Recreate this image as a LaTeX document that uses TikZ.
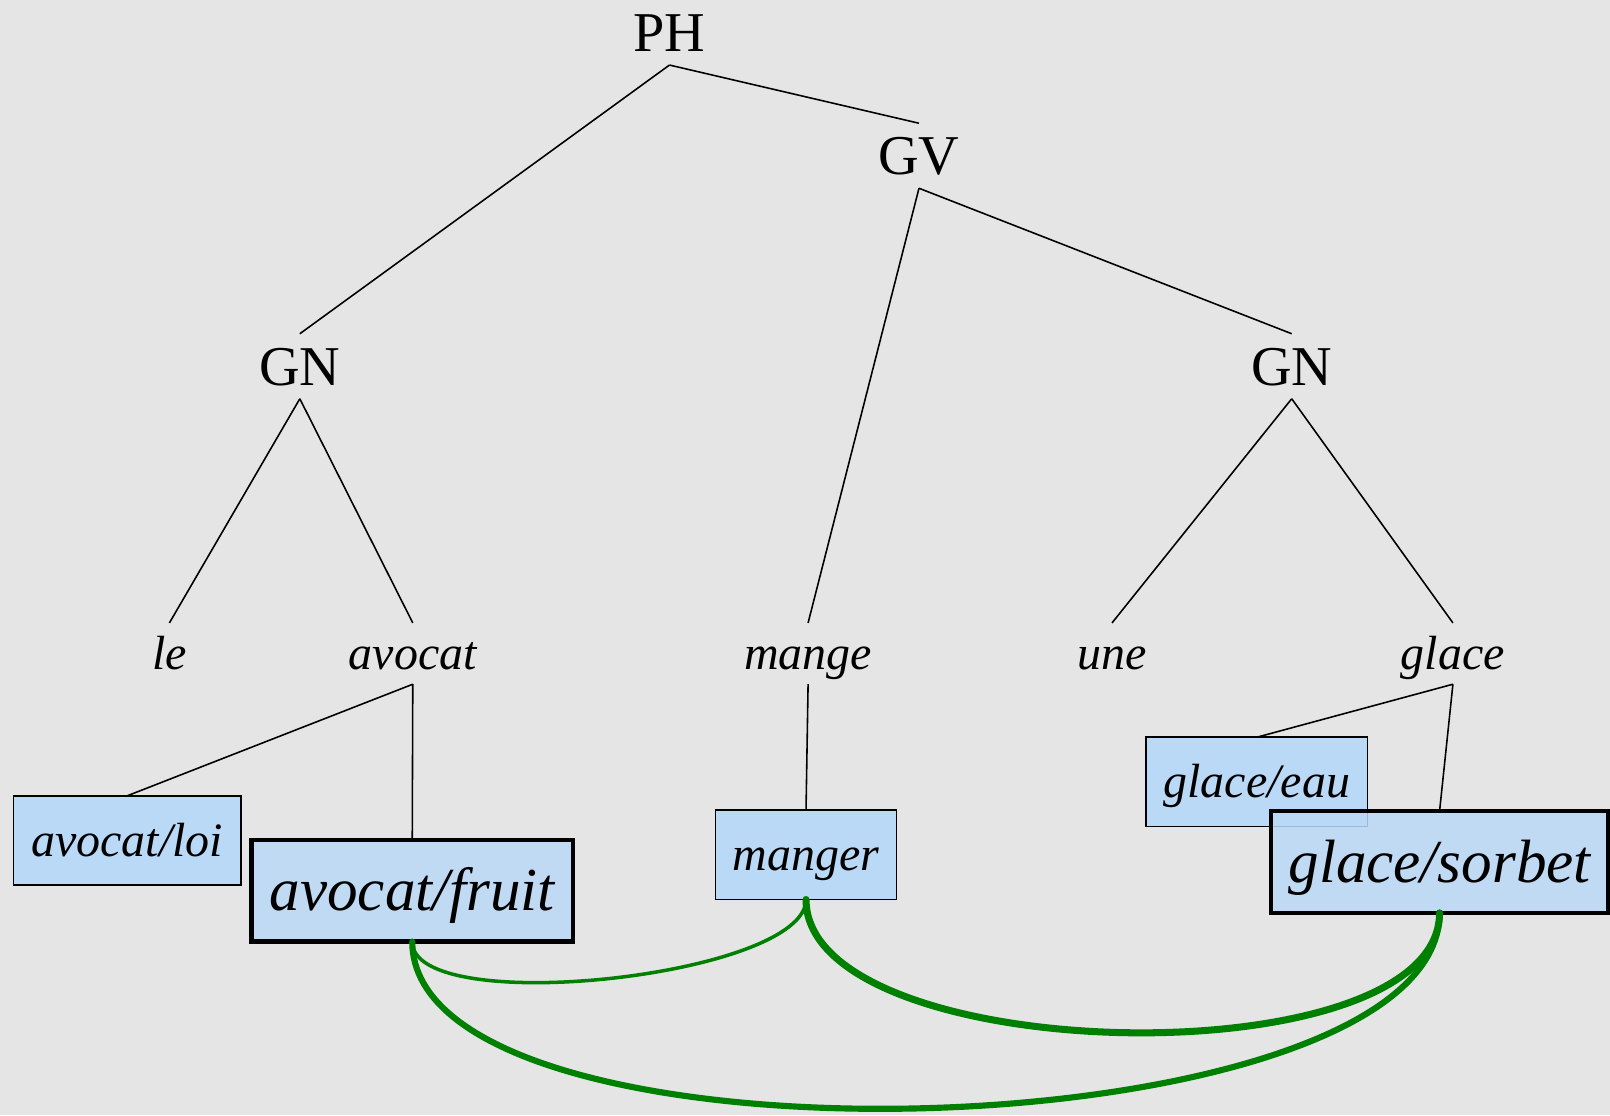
\documentclass[tikz,border=0pt]{standalone}
\usepackage{fontspec}
\setmainfont{Liberation Serif}
\definecolor{paper}{RGB}{229,229,229}
\definecolor{boxblue}{RGB}{186,217,246}
\definecolor{linkgreen}{RGB}{0,128,0}
\begin{document}
\begin{tikzpicture}[x=0.020536cm, y=-0.020536cm,
	cat/.style={font=\fontsize{32pt}{36pt}\selectfont, inner sep=0pt, text height=29pt, text depth=7.6pt, anchor=base},
	word/.style={font=\fontsize{27.3pt}{31pt}\selectfont\itshape, inner sep=0pt, text height=26.3pt, text depth=8.2pt, anchor=base},
	sense/.style={draw, line width=0.9pt, fill=boxblue, font=\fontsize{27.3pt}{31pt}\selectfont\itshape, text height=23.5pt, text depth=5.5pt, minimum height=87*0.5843pt, inner sep=0pt, outer sep=0pt},
	chosen/.style={sense, line width=2.6pt, fill opacity=0.85, text opacity=1, font=\fontsize{34.8pt}{38pt}\selectfont\itshape, text height=30pt, text depth=7pt, minimum height=99*0.5843pt},
	link/.style={linkgreen, line cap=round}]
	\fill[paper] (0,0) rectangle (1568,1086);
	\useasboundingbox (0,0) rectangle (1568,1086);
	% arbre
	\node[cat] (ph) at (652,50) {PH};
	\node[cat] (gv) at (895,170) {GV};
	\node[cat] (gn1) at (292,375) {GN};
	\node[cat] (gn2) at (1258,375) {GN};
	\node[word] (le) at (165,652) {le};
	\node[word] (avocat) at (402,652) {avocat};
	\node[word] (mange) at (787,652) {mange};
	\node[word] (une) at (1083,652) {une};
	\node[word] (glace) at (1415,652) {glace};
	% sens
	\node[sense, minimum width=222*0.5843pt] (loi) at (124,818.5) {avocat/loi};
	\node[chosen, minimum width=313*0.5843pt] (fruit) at (401.5,867.5) {avocat/fruit};
	\node[sense, minimum width=176*0.5843pt] (manger) at (785,832.5) {manger};
	\node[sense, minimum width=216*0.5843pt] (eau) at (1224,761.5) {glace/eau};
	\node[chosen, minimum width=328*0.5843pt] (sorbet) at (1402,839.5) {glace/sorbet};
	\begin{scope}[line width=0.9pt]
		\draw (ph.south) -- (gn1.north); \draw (ph.south) -- (gv.north);
		\draw (gv.south) -- (mange.north); \draw (gv.south) -- (gn2.north);
		\draw (gn1.south) -- (le.north); \draw (gn1.south) -- (avocat.north);
		\draw (gn2.south) -- (une.north); \draw (gn2.south) -- (glace.north);
		\draw (avocat.south) -- (loi.north); \draw (avocat.south) -- (fruit.north);
		\draw (mange.south) -- (manger.north);
		\draw (glace.south) -- (eau.north); \draw (glace.south) -- (sorbet.north);
	\end{scope}
	% liens
	\draw[link, line width=2pt] (fruit.south) to[out=-90, in=-90, looseness=0.5] (manger.south);
	\draw[link, line width=4pt] (manger.south) to[out=-90, in=-90, looseness=0.68] (sorbet.south);
	\draw[link, line width=3.5pt] (fruit.south) to[out=-90, in=-90, looseness=0.6] (sorbet.south);
\end{tikzpicture}
\end{document}
